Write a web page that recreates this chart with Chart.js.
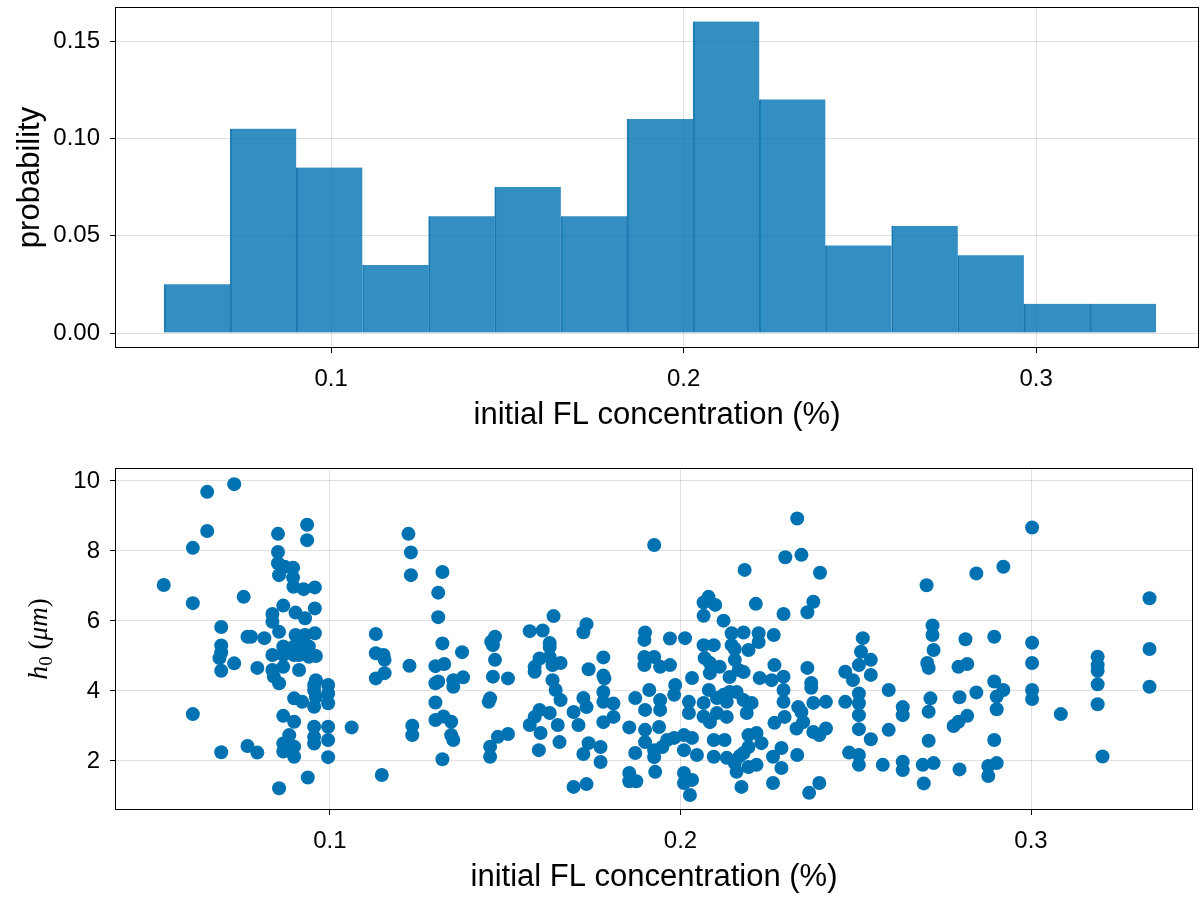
<!DOCTYPE html>
<html>
<head>
<meta charset="utf-8">
<title>Initial FL concentration</title>
<script src="https://cdn.jsdelivr.net/npm/chart.js"></script>
<style>
  html, body { margin: 0; padding: 0; background: #fff; }
  #top-box { position: absolute; left: 0; top: 0; width: 1200px; height: 448px; }
  #bottom-box { position: absolute; left: 0; top: 448px; width: 1200px; height: 449px; }
</style>
</head>
<body>
<div id="top-box"><canvas id="histChart"></canvas></div>
<div id="bottom-box"><canvas id="scatterChart"></canvas></div>
<script>
// histogram bins (edges) and probability per bin
const binEdges = [0.0526, 0.0714, 0.0901, 0.1089, 0.1277, 0.1464, 0.1652, 0.1840, 0.2027,
                  0.2215, 0.2402, 0.2590, 0.2778, 0.2965, 0.3153, 0.3340];
const binProb = [0.025, 0.105, 0.085, 0.035, 0.06, 0.075, 0.06, 0.11, 0.16, 0.12,
                 0.045, 0.055, 0.04, 0.015, 0.015];

const xTicks = [0.1, 0.2, 0.3];
const probTicks = [0, 0.05, 0.10, 0.15];
const h0Ticks = [2, 4, 6, 8, 10];

// [initial FL concentration (%), h0 (um)]
const scatterPoints = [
  [0.0526, 7.03],
  [0.0609, 8.09], [0.0609, 6.51], [0.0609, 3.34],
  [0.0650, 9.69], [0.0650, 8.57],
  [0.0690, 5.83], [0.0690, 5.30], [0.0690, 5.10], [0.0685, 4.94], [0.0690, 4.58], [0.0690, 2.25],
  [0.0727, 9.91], [0.0727, 4.79],
  [0.0754, 6.69],
  [0.0765, 5.55], [0.0765, 2.43], [0.0775, 5.55],
  [0.0793, 4.66], [0.0793, 2.24],
  [0.0813, 5.51],
  [0.0836, 6.20], [0.0836, 5.98], [0.0836, 5.03], [0.0836, 4.60], [0.0840, 4.41],
  [0.0852, 8.49], [0.0852, 7.97], [0.0852, 7.65], [0.0855, 7.31], [0.0855, 5.69], [0.0855, 4.22], [0.0855, 1.22],
  [0.0867, 6.44], [0.0871, 7.55], [0.0867, 5.27], [0.0867, 5.03], [0.0867, 4.69], [0.0867, 3.29], [0.0867, 2.50], [0.0867, 2.27],
  [0.0884, 2.74],
  [0.0895, 7.52], [0.0895, 7.24], [0.0896, 6.98], [0.0902, 6.24], [0.0902, 5.60], [0.0898, 5.27], [0.0898, 5.03],
  [0.0898, 3.79], [0.0898, 3.12], [0.0898, 2.41], [0.0898, 2.12],
  [0.0921, 3.69], [0.0912, 4.60], [0.0925, 6.91], [0.0929, 6.08], [0.0929, 5.60], [0.0912, 5.27], [0.0940, 5.27],
  [0.0912, 5.03], [0.0940, 4.98],
  [0.0935, 8.75], [0.0935, 8.31], [0.0937, 1.53],
  [0.0957, 6.96], [0.0957, 6.36], [0.0957, 5.65], [0.0955, 4.17], [0.0955, 4.03], [0.0955, 3.55], [0.0955, 2.98],
  [0.0955, 2.69], [0.0955, 2.50], [0.0960, 5.00], [0.0960, 4.31], [0.0960, 3.83],
  [0.0995, 4.17], [0.0995, 3.93], [0.0995, 3.65], [0.0995, 2.98], [0.0995, 2.60], [0.0995, 2.11],
  [0.1062, 2.96],
  [0.1131, 5.63], [0.1131, 5.08], [0.1131, 4.36], [0.1153, 5.03], [0.1156, 4.89], [0.1156, 4.51], [0.1148, 1.60],
  [0.1224, 8.49], [0.1231, 7.96], [0.1231, 7.31], [0.1227, 4.72], [0.1235, 3.01], [0.1235, 2.74],
  [0.1321, 7.40], [0.1309, 6.81], [0.1309, 6.11], [0.1321, 5.36], [0.1301, 4.71], [0.1326, 4.77], [0.1301, 4.22],
  [0.1309, 4.27], [0.1301, 3.67], [0.1301, 3.17], [0.1324, 3.27], [0.1321, 2.05],
  [0.1352, 4.31], [0.1352, 4.12], [0.1346, 3.12], [0.1346, 2.74], [0.1352, 2.60],
  [0.1377, 5.11], [0.1380, 4.39],
  [0.1471, 5.55], [0.1460, 5.41], [0.1465, 5.31], [0.1471, 4.89], [0.1465, 4.41], [0.1457, 3.79], [0.1453, 3.69],
  [0.1457, 2.41], [0.1457, 2.12], [0.1508, 4.36], [0.1479, 2.69], [0.1508, 2.77],
  [0.1570, 5.71], [0.1607, 5.73], [0.1598, 4.93], [0.1584, 4.69], [0.1584, 4.55], [0.1598, 3.46], [0.1584, 3.26],
  [0.1570, 3.03], [0.1601, 2.80], [0.1596, 2.31],
  [0.1638, 6.14], [0.1627, 5.37], [0.1627, 5.26], [0.1627, 4.97], [0.1635, 4.74], [0.1658, 4.80], [0.1635, 4.31],
  [0.1644, 4.03], [0.1658, 3.74], [0.1627, 3.37], [0.1650, 3.03], [0.1655, 2.54],
  [0.1732, 5.91], [0.1723, 5.68], [0.1738, 4.62], [0.1723, 3.80], [0.1732, 3.54], [0.1695, 3.40], [0.1709, 3.03],
  [0.1738, 2.51], [0.1723, 2.20], [0.1695, 1.26], [0.1732, 1.34],
  [0.1780, 4.96], [0.1780, 4.44], [0.1783, 4.36], [0.1780, 3.97], [0.1780, 3.69], [0.1809, 3.64], [0.1809, 3.26],
  [0.1780, 3.11], [0.1772, 2.40], [0.1772, 1.97],
  [0.1871, 3.80], [0.1854, 2.96], [0.1871, 2.23], [0.1854, 1.66], [0.1854, 1.42], [0.1874, 1.42],
  [0.1925, 8.17], [0.1899, 5.67], [0.1897, 5.46], [0.1897, 4.97], [0.1897, 4.74], [0.1925, 4.97], [0.1942, 4.69],
  [0.1911, 4.03], [0.1899, 3.46], [0.1942, 3.74], [0.1942, 3.46], [0.1899, 2.89], [0.1899, 2.54], [0.1939, 2.97],
  [0.1925, 2.31], [0.1925, 2.11], [0.1928, 1.69], [0.1948, 2.40], [0.1962, 2.60],
  [0.1970, 5.50], [0.1970, 4.74], [0.1982, 2.66], [0.1985, 4.17], [0.1982, 3.89],
  [0.2013, 5.51], [0.2033, 4.37], [0.2024, 3.69], [0.2024, 3.37], [0.2010, 2.74], [0.2033, 2.66], [0.2010, 2.31],
  [0.2047, 2.17], [0.2010, 1.66], [0.2033, 1.46], [0.2010, 1.37], [0.2027, 1.03],
  [0.2080, 6.69], [0.2066, 6.53], [0.2099, 6.46], [0.2066, 6.15], [0.2123, 6.01], [0.2066, 5.31], [0.2095, 5.31],
  [0.2069, 4.94], [0.2084, 4.80], [0.2112, 4.69], [0.2084, 4.51], [0.2081, 4.03], [0.2066, 3.66], [0.2066, 3.27],
  [0.2084, 3.11], [0.2104, 3.80], [0.2104, 3.37], [0.2095, 2.60], [0.2095, 2.12],
  [0.2140, 4.40], [0.2123, 3.89], [0.2140, 3.97], [0.2160, 3.97], [0.2132, 3.69], [0.2132, 3.26], [0.2126, 2.60],
  [0.2132, 2.09], [0.2155, 1.94], [0.2160, 1.69], [0.2146, 5.65], [0.2146, 5.31], [0.2155, 5.20], [0.2155, 4.89],
  [0.2166, 4.60],
  [0.2169, 2.14], [0.2174, 1.26], [0.2180, 5.67], [0.2183, 7.46], [0.2180, 4.54], [0.2180, 3.74], [0.2180, 2.23],
  [0.2189, 3.37], [0.2194, 5.17], [0.2194, 2.74], [0.2194, 2.40], [0.2194, 1.83], [0.2203, 3.66], [0.2215, 6.49],
  [0.2217, 2.80], [0.2217, 1.89], [0.2223, 5.65], [0.2223, 5.40], [0.2226, 4.37], [0.2231, 2.51],
  [0.2260, 4.31], [0.2266, 5.60], [0.2268, 4.74], [0.2268, 3.09], [0.2264, 2.12], [0.2264, 1.37], [0.2288, 2.37],
  [0.2288, 1.80], [0.2294, 6.20], [0.2294, 4.41], [0.2294, 4.03], [0.2294, 3.69], [0.2297, 3.26], [0.2299, 7.82],
  [0.2333, 8.93], [0.2345, 7.89], [0.2333, 2.17], [0.2336, 3.54], [0.2345, 3.40], [0.2350, 3.11], [0.2331, 2.93],
  [0.2362, 4.66], [0.2373, 4.23], [0.2373, 4.09], [0.2379, 3.66], [0.2379, 2.83], [0.2396, 2.74], [0.2415, 2.93],
  [0.2415, 3.69], [0.2367, 1.09], [0.2396, 1.37], [0.2379, 6.55], [0.2362, 6.25], [0.2398, 7.38],
  [0.2470, 4.55], [0.2470, 3.69], [0.2492, 4.31], [0.2481, 2.24], [0.2520, 5.51], [0.2515, 5.12], [0.2509, 4.74],
  [0.2543, 4.89], [0.2543, 4.46], [0.2509, 3.93], [0.2509, 3.65], [0.2509, 3.31], [0.2509, 2.91], [0.2543, 2.62],
  [0.2509, 2.17], [0.2509, 1.89],
  [0.2577, 1.89], [0.2594, 2.89], [0.2594, 4.03], [0.2634, 3.54], [0.2634, 3.31], [0.2634, 1.98], [0.2634, 1.74],
  [0.2702, 7.02], [0.2719, 5.87], [0.2719, 5.60], [0.2722, 5.17], [0.2704, 4.80], [0.2708, 4.66], [0.2713, 3.79],
  [0.2708, 3.41], [0.2708, 2.58], [0.2691, 1.89], [0.2722, 1.94], [0.2694, 1.36],
  [0.2779, 3.00], [0.2793, 3.12], [0.2818, 3.29], [0.2796, 3.82], [0.2793, 4.69], [0.2818, 4.77], [0.2813, 5.48],
  [0.2796, 1.76], [0.2844, 7.36], [0.2844, 3.96],
  [0.2878, 1.86], [0.2902, 1.94], [0.2878, 1.57], [0.2895, 5.55], [0.2895, 4.27], [0.2921, 4.03], [0.2902, 3.84],
  [0.2902, 3.48], [0.2895, 2.60], [0.2921, 7.55],
  [0.3003, 8.67], [0.3003, 5.38], [0.3003, 4.80], [0.3003, 4.03], [0.3003, 3.77],
  [0.3085, 3.34],
  [0.3190, 4.98], [0.3190, 4.74], [0.3190, 4.58], [0.3190, 4.19], [0.3190, 3.62], [0.3204, 2.13],
  [0.3338, 6.65], [0.3338, 5.20], [0.3338, 4.12]
];

const blue = '#0072b2';
const gridColor = 'rgba(0,0,0,0.12)';
const sans = "'Liberation Sans', Arial, sans-serif";
const tickFont = { family: sans, size: 24 };
const titleFont = { family: sans, size: 31 };

// draw the full box around the plot area (all four spines)
const framePlugin = {
    id: 'frame',
    afterDraw(chart) {
        const { ctx, chartArea: a } = chart;
        ctx.save();
        ctx.strokeStyle = '#000';
        ctx.lineWidth = 1;
        ctx.strokeRect(a.left + 0.5, a.top + 0.5, a.right - a.left - 1, a.bottom - a.top - 1);
        ctx.restore();
    }
};

function xAxis(titlePad, axisHeight) {
    return {
        type: 'linear',
        min: 0.0387,
        max: 0.3462,
        offset: false,
        afterBuildTicks: s => { s.ticks = xTicks.map(v => ({ value: v })); },
        afterFit: s => { s.height = axisHeight; s.paddingLeft = 0; s.paddingRight = 0; },
        grid: { color: gridColor, tickColor: '#000', tickLength: 5, offset: false },
        border: { display: false },
        ticks: { font: tickFont, color: '#000', padding: 12, maxRotation: 0, callback: v => v.toFixed(1) },
        title: { display: true, text: 'initial FL concentration (%)', font: titleFont, color: '#000',
                 padding: { top: 0, bottom: titlePad } }
    };
}

function yAxis(min, max, ticks, fmt) {
    return {
        min: min,
        max: max,
        afterBuildTicks: s => { s.ticks = ticks.map(v => ({ value: v })); },
        afterFit: s => { s.width = 115; s.paddingTop = 0; s.paddingBottom = 0; },
        grid: { color: gridColor, tickColor: '#000', tickLength: 5 },
        border: { display: false },
        ticks: { font: tickFont, color: '#000', padding: 10, callback: fmt }
    };
}

// top: histogram
const histData = binProb.map((p, i) => ({ x: (binEdges[i] + binEdges[i + 1]) / 2, y: p }));

const probAxis = yAxis(-0.0077, 0.1675, probTicks, v => v.toFixed(2));
probAxis.title = { display: true, text: 'probability', font: titleFont, color: '#000',
                   padding: { top: 12, bottom: 0 } };

new Chart(document.getElementById('histChart'), {
    type: 'bar',
    data: {
        datasets: [{
            data: histData,
            backgroundColor: 'rgba(0,114,178,0.8)',
            borderColor: 'rgba(0,100,160,0.85)',
            borderWidth: { left: 1, right: 0, top: 0, bottom: 0 },
            borderSkipped: false,
            barPercentage: 1,
            categoryPercentage: 1,
            grouped: false
        }]
    },
    options: {
        responsive: true,
        maintainAspectRatio: false,
        animation: false,
        layout: { padding: { top: 7, right: 1, bottom: 0, left: 0 } },
        plugins: { legend: { display: false }, tooltip: { enabled: false } },
        scales: {
            x: xAxis(14, 100),
            y: probAxis
        }
    },
    plugins: [framePlugin]
});

// y title of the scatter: h with subscript 0, math style
const h0TitlePlugin = {
    id: 'h0Title',
    afterDraw(chart) {
        const ctx = chart.ctx;
        const a = chart.chartArea;
        const parts = [
            { t: 'h', f: "italic 28px 'Liberation Serif', serif", dy: 0 },
            { t: '0', f: "19px 'Liberation Serif', serif", dy: 5 },
            { t: ' (', f: "27px 'Liberation Serif', serif", dy: 0 },
            { t: 'μm', f: "italic 27px 'Liberation Serif', serif", dy: 0 },
            { t: ')', f: "27px 'Liberation Serif', serif", dy: 0 }
        ];
        ctx.save();
        let total = 0;
        parts.forEach(p => { ctx.font = p.f; p.w = ctx.measureText(p.t).width; total += p.w; });
        ctx.translate(38, (a.top + a.bottom) / 2);
        ctx.rotate(-Math.PI / 2);
        ctx.fillStyle = '#000';
        ctx.textBaseline = 'alphabetic';
        let x = -total / 2;
        parts.forEach(p => { ctx.font = p.f; ctx.fillText(p.t, x, 9 + p.dy); x += p.w; });
        ctx.restore();
    }
};

// bottom: scatter
new Chart(document.getElementById('scatterChart'), {
    type: 'scatter',
    data: {
        datasets: [{
            data: scatterPoints.map(p => ({ x: p[0], y: p[1] })),
            backgroundColor: blue,
            borderWidth: 0,
            pointRadius: 7,
            pointHoverRadius: 7
        }]
    },
    options: {
        responsive: true,
        maintainAspectRatio: false,
        animation: false,
        layout: { padding: { top: 20, right: 1, bottom: 0, left: 0 } },
        plugins: { legend: { display: false }, tooltip: { enabled: false } },
        scales: {
            x: xAxis(1, 87),
            y: yAxis(0.6, 10.371, h0Ticks, v => String(v))
        }
    },
    plugins: [framePlugin, h0TitlePlugin]
});
</script>
</body>
</html>
